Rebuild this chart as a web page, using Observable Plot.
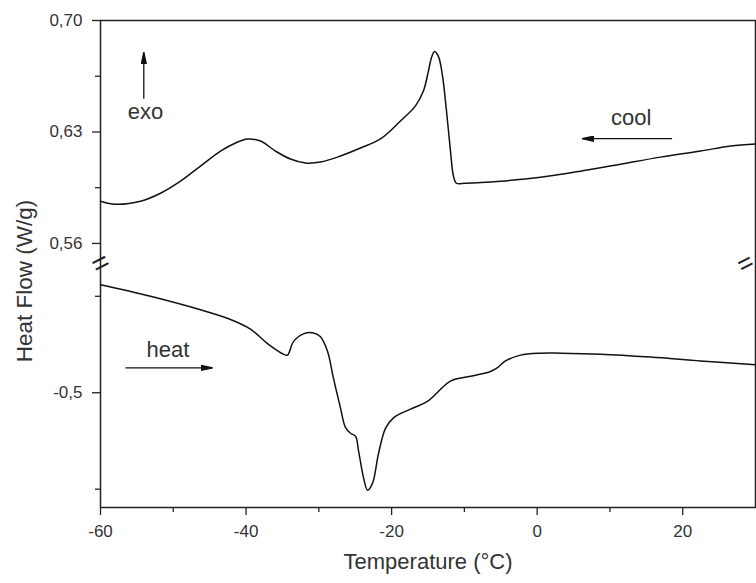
<!DOCTYPE html>
<html>
<head>
<meta charset="utf-8">
<script src="https://cdn.jsdelivr.net/npm/d3@7"></script>
<script src="https://cdn.jsdelivr.net/npm/@observablehq/plot@0.6"></script>
<style>
  html, body { margin: 0; padding: 0; background: #fff; }
  #chart { width: 756px; height: 583px; }
</style>
</head>
<body>
<div id="chart"></div>
<script>
// DSC thermogram: cooling trace (upper panel) and heating trace (lower panel), broken y axis
const coolTemp = [-60.0, -57.94, -54.50, -51.76, -49.01, -46.26, -43.51, -41.45, -39.80, -38.02,
  -35.96, -33.90, -31.83, -29.77, -27.02, -24.28, -21.53, -18.78, -16.72, -15.62, -14.93, -14.52,
  -14.11, -13.56, -13.01, -12.46, -11.91, -11.50, -11.09, -9.85, -5.04, 0.46, 5.95, 11.45, 16.94,
  22.44, 26.56, 30.0];
const coolFlow = [0.5865, 0.5846, 0.5865, 0.5915, 0.5991, 0.6086, 0.6180, 0.6231, 0.6256, 0.6243,
  0.6180, 0.6130, 0.6105, 0.6111, 0.6149, 0.6199, 0.6256, 0.6369, 0.6464, 0.6559, 0.6685, 0.6767,
  0.6805, 0.6773, 0.6653, 0.6432, 0.6180, 0.6023, 0.5978, 0.5978, 0.5991, 0.6016, 0.6054, 0.6098,
  0.6142, 0.6180, 0.6212, 0.6224];

const heatTemp = [-60.0, -53.13, -46.26, -42.14, -39.39, -37.05, -34.86, -34.31, -33.48, -32.11,
  -30.73, -29.77, -28.81, -27.99, -27.02, -26.34, -25.65, -24.96, -24.55, -23.86, -23.31, -22.63,
  -21.80, -20.84, -19.74, -17.41, -15.07, -11.91, -9.16, -6.41, -5.45, -4.35, -2.29, 0.46, 3.20,
  8.70, 15.57, 22.44, 30.0];
const heatFlow = [-0.388, -0.400, -0.414, -0.424, -0.434, -0.449, -0.460, -0.461, -0.447, -0.439,
  -0.438, -0.442, -0.457, -0.485, -0.516, -0.536, -0.542, -0.545, -0.560, -0.588, -0.601, -0.594,
  -0.563, -0.537, -0.526, -0.517, -0.509, -0.488, -0.483, -0.478, -0.474, -0.467, -0.461, -0.459,
  -0.459, -0.460, -0.463, -0.467, -0.471];

// axis ticks
const xTicks = [-60, -40, -20, 0, 20];
const xMinorTicks = [-50, -30, -10, 10];
const yTicks = [0.70, 0.63, 0.56, -0.5];
const yTickLabels = ["0,70", "0,63", "0,56", "-0,5"];
const yMinorTicks = [0.665, 0.595, -0.4, -0.6];

// the two visible y ranges: [lower min, lower max] and [upper min, upper max]
const yLower = [-0.619, -0.366];
const yUpper = [0.5474, 0.70];
// the lower panel is drawn at this fraction of the upper panel's vertical scale
const lowerScale = 0.6056;

// direction annotations
const annLabels = ["exo", "cool", "heat"];
const annTextX = [-53.82, 12.93, -50.73];
const annTextY = [0.6426, 0.6388, -0.456];
const annX1 = [-54.05, 18.54, -56.57];
const annY1 = [0.6508, 0.6258, -0.4742];
const annX2 = [-54.05, 6.18, -44.61];
const annY2 = [0.6800, 0.6258, -0.4742];

// fold the gap out of the y axis: values below the break are packed directly under the upper panel
const gapMid = (yLower[1] + yUpper[0]) / 2;
const fold = v => (v < gapMid ? yUpper[0] - (yLower[1] - v) * lowerScale : v);

const cool = coolTemp.map((t, i) => ({t, v: coolFlow[i]}));
const heat = heatTemp.map((t, i) => ({t, v: heatFlow[i]}));
const notes = annLabels.map((label, i) => ({
  label, tx: annTextX[i], ty: annTextY[i],
  x1: annX1[i], y1: annY1[i], x2: annX2[i], y2: annY2[i]
}));

const ink = "#222";
const textInk = "#333";

// filled, slender arrowhead
function filledHead(color) {
  return d3.create("svg:marker")
    .attr("viewBox", "0 -3 12 6")
    .attr("refX", 12)
    .attr("refY", 0)
    .attr("markerUnits", "userSpaceOnUse")
    .attr("markerWidth", 12)
    .attr("markerHeight", 6)
    .attr("orient", "auto")
    .call(m => m.append("path").attr("d", "M0,-2.6L12,0L0,2.6Z").attr("fill", color))
    .node();
}

// axis-break symbol drawn where the two panels meet
const breakMark = (x, dx, size) =>
  Plot.text([x], {x: d => d, y: () => yUpper[0], dx, text: () => "=", rotate: -27, fontSize: size, fill: ink});

function build(head) {
  return Plot.plot({
    width: 756,
    height: 583,
    marginLeft: 100,
    marginRight: 1,
    marginTop: 20,
    marginBottom: 76,
    style: {fontFamily: "'Liberation Sans', Arial, sans-serif", color: textInk, background: "#fff"},
    x: {domain: [-60, 30]},
    y: {transform: fold, domain: [fold(yLower[0]), yUpper[1]], range: [507, 20]},
    marks: [
      Plot.frame({stroke: ink, strokeWidth: 1.5}),
      Plot.axisX({ticks: xTicks, tickFormat: d => String(d), tickSize: 8, tickPadding: 9, fontSize: 17,
        stroke: ink, strokeWidth: 1.3, label: null}),
      Plot.axisX({ticks: xMinorTicks, tickSize: 5, stroke: ink, strokeWidth: 1.3, text: null, label: null}),
      Plot.axisY({ticks: yTicks.map(fold), tickFormat: d => yTickLabels[yTicks.map(fold).indexOf(d)],
        tickSize: 8, tickPadding: 10, fontSize: 17, stroke: ink, strokeWidth: 1.3, label: null}),
      Plot.axisY({ticks: yMinorTicks.map(fold), tickSize: 5, stroke: ink, strokeWidth: 1.3, text: null, label: null}),
      breakMark(-60, 0, 29),
      breakMark(30, -10, 26),
      Plot.line(cool, {x: "t", y: "v", curve: "catmull-rom", stroke: "#111", strokeWidth: 1.5}),
      Plot.line(heat, {x: "t", y: "v", curve: "catmull-rom", stroke: "#111", strokeWidth: 1.5}),
      Plot.link(notes, {x1: "x1", y1: "y1", x2: "x2", y2: "y2", stroke: "#111", strokeWidth: 1.3, markerEnd: head}),
      Plot.text(notes, {x: "tx", y: "ty", text: "label", fontSize: 22, fill: textInk}),
      Plot.text(["Temperature (°C)"], {frameAnchor: "bottom", textAnchor: "middle", dy: 61, fontSize: 22, fill: textInk}),
      Plot.text(["Heat Flow (W/g)"], {frameAnchor: "left", textAnchor: "middle", dx: -76, dy: 17, rotate: -90,
        fontSize: 22.5, fill: textInk})
    ]
  });
}

let chart;
try {
  chart = build(filledHead);
} catch (e) {
  chart = build("arrow");
}
document.getElementById("chart").appendChild(chart);
</script>
</body>
</html>
